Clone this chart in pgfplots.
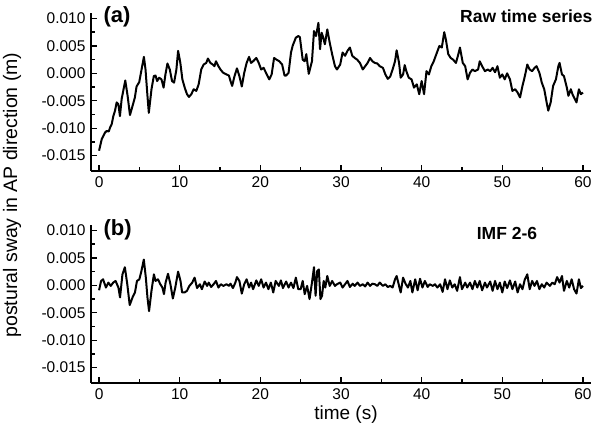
\documentclass[border=0pt]{standalone}
\usepackage{pgfplots}
\pgfplotsset{compat=1.18}
\usepackage{fontspec}
\setmainfont{Liberation Sans}

\pgfplotsset{
 sway/.style={
  scale only axis,width=500pt,height=158pt,
  xmin=-1,xmax=61,ymin=-0.0178,ymax=0.011,
  axis x line=bottom,axis y line=left,
  axis line style={-,line width=1.8pt},
  tick align=inside,
  major tick length=6pt,minor tick length=3.5pt,
  every tick/.style={line width=1.4pt,black},
  xtick={0,10,20,30,40,50,60},minor x tick num=1,
  ytick={-0.015,-0.01,-0.005,0,0.005,0.01},minor y tick num=1,
  scaled y ticks=false,
  yticklabel style={/pgf/number format/fixed,/pgf/number format/fixed zerofill,/pgf/number format/precision=3,xshift=-2pt},
  /pgf/number format/assume math mode=true,
  tick label style={font=\fontsize{15.5}{18}\selectfont},
  xticklabel style={yshift=-2pt},
 },
 trace/.style={black,line width=2pt,no markers,line join=round}
}

\begin{document}
\begin{tikzpicture}
\path[use as bounding box] (0,0) rectangle (601pt,435pt);

% (a) raw series
\begin{axis}[sway,at={(91pt,264pt)},anchor=south west]
\addplot[trace] coordinates {
(0,-0.0141)(0.33,-0.012)(0.74,-0.0108)(0.95,-0.0105)(1.2,-0.0106)(1.36,-0.0099)(1.56,-0.0093)
(1.77,-0.0078)(1.98,-0.0068)(2.18,-0.0053)(2.39,-0.0056)(2.59,-0.0078)(2.8,-0.0047)(3.25,-0.0013)
(3.54,-0.0041)(3.83,-0.0076)(4.16,-0.0059)(4.44,-0.0044)(4.65,-0.0024)(4.98,-0.0016)(5.27,0.0007)
(5.56,0.003)(5.76,0.0007)(6.0,-0.0041)(6.17,-0.0072)(6.5,-0.0029)(6.79,-0.0005)(7.0,-0.0004)
(7.2,-0.0014)(7.45,-0.0008)(7.74,-0.0011)(8.0,-0.0026)(8.23,-0.0002)(8.48,0.0018)(8.77,0.0007)
(9.05,-0.0014)(9.3,-0.0017)(9.59,0.0007)(9.8,0.0041)(10.08,0.0019)(10.33,-0.0011)(10.62,-0.0026)
(10.9,-0.0038)(11.15,-0.0043)(11.44,-0.0038)(11.73,-0.0029)(12.06,-0.0032)(12.35,-0.002)(12.67,0.0007)
(12.96,0.0016)(13.29,0.0019)(13.5,0.0027)(13.8,0.0019)(14.1,0.0016)(14.3,0.0013)(14.5,0.0022)
(14.8,0.0013)(15.1,0.0006)(15.4,0.0001)(15.8,-0.0002)(16.1,-0.0004)(16.3,-0.0014)(16.5,-0.0023)
(16.8,-0.0005)(17.1,0.0009)(17.4,-0.0005)(17.7,-0.0024)(18.0,0.0001)(18.3,0.0019)(18.6,0.003)
(18.85,0.0019)(19.1,0.0022)(19.5,0.0028)(19.8,0.0019)(20.1,0.0007)(20.4,0.001)(20.7,0.0001)
(21.1,-0.0011)(21.4,-0.0002)(21.7,0.0028)(22.0,0.0025)(22.35,0.0022)(22.7,0.0016)(23.0,-0.0004)
(23.2,-0.0004)(23.5,0.0001)(23.8,0.0038)(24.0,0.005)(24.4,0.0065)(24.7,0.0068)(24.9,0.0066)
(25.25,0.0025)(25.5,0.0022)(25.7,0.0035)(26.0,-0.0001)(26.4,0.0022)(26.65,0.0077)(26.9,0.0068)
(27.2,0.0092)(27.4,0.0044)(27.6,0.0074)(27.8,0.0065)(28.0,0.0053)(28.3,0.008)(28.6,0.0056)
(28.9,0.0035)(29.25,0.0013)(29.5,0.0007)(29.9,0.0016)(30.2,0.0038)(30.5,0.0032)(30.8,0.0041)
(31.1,0.0047)(31.4,0.0032)(31.7,0.0028)(32.0,0.0025)(32.35,0.0019)(32.7,0.0007)(33.0,0.0013)
(33.3,0.0019)(33.6,0.0028)(33.9,0.0022)(34.2,0.0019)(34.5,0.0018)(34.8,0.0013)(35.2,0.001)
(35.5,-0.0002)(35.8,-0.001)(36.1,-0.0006)(36.4,0.0007)(36.7,0.0022)(36.9,0.0042)(37.2,0.0019)
(37.4,-0.0008)(37.7,-0.0002)(37.9,0.0015)(38.1,0.0004)(38.4,-0.0008)(38.75,-0.0011)(39.05,-0.0026)
(39.4,-0.002)(39.7,-0.0038)(40.0,-0.0014)(40.3,-0.0038)(40.6,0.0004)(40.9,-0.0002)(41.2,0.0013)
(41.5,0.0022)(41.9,0.0038)(42.2,0.005)(42.5,0.0047)(42.8,0.0075)(43.0,0.0062)(43.3,0.0035)
(43.6,0.0028)(43.9,0.0025)(44.25,0.0019)(44.5,0.0032)(44.75,0.0047)(45.1,0.0019)(45.4,0.0013)
(45.7,-0.0011)(46.0,0.0001)(46.3,0.0007)(46.6,0.0004)(47.0,0.0007)(47.2,0.0022)(47.5,0.0013)
(47.85,0.0004)(48.2,0.0007)(48.5,0.0004)(48.8,0.001)(49.1,0.0002)(49.4,0.0013)(49.7,-0.0008)
(50.0,-0.0002)(50.3,-0.0011)(50.6,0.0)(50.95,-0.0011)(51.25,-0.0032)(51.6,-0.0029)(51.9,-0.0035)
(52.2,-0.0044)(52.5,-0.0023)(52.8,-0.0005)(53.1,0.0016)(53.4,0.0007)(53.7,0.0004)(54.0,0.001)
(54.25,0.0013)(54.6,0.0001)(54.9,-0.0017)(55.2,-0.0029)(55.5,-0.0053)(55.7,-0.0068)(56.0,-0.0053)
(56.3,-0.0023)(56.65,-0.0011)(56.95,0.0013)(57.1,0.0019)(57.4,-0.0002)(57.65,-0.0005)(58.0,-0.0026)
(58.2,-0.0041)(58.5,-0.0029)(58.7,-0.0038)(59.0,-0.0047)(59.2,-0.0053)(59.5,-0.0029)(59.75,-0.0038)
(60.0,-0.0035)
};
\end{axis}

% (b) IMF 2-6
\begin{axis}[sway,at={(91pt,52pt)},anchor=south west]
\addplot[trace] coordinates {
(0,-0.0009)(0.25,0.0008)(0.5,0.0011)(0.85,-0.0004)(1.15,0.0005)(1.45,-0.0001)(1.75,0.0005)
(2.05,0.0008)(2.4,-0.0004)(2.6,-0.0022)(2.9,0.002)(3.2,0.0033)(3.5,0.0002)(3.8,-0.0036)
(4.15,-0.0022)(4.45,-0.0013)(4.7,0.0008)(5.0,0.0011)(5.25,0.0026)(5.55,0.0047)(5.8,0.0014)
(6.0,-0.0022)(6.2,-0.0047)(6.5,-0.001)(6.8,0.002)(7.0,0.0008)(7.3,0.0011)(7.6,0.0002)
(7.85,-0.0004)(8.05,-0.0016)(8.25,0.0005)(8.55,0.0021)(8.85,0.0002)(9.15,-0.0024)(9.45,-0.0004)
(9.8,0.0025)(10.1,0.0008)(10.3,-0.0013)(10.6,-0.0013)(10.9,-0.001)(11.2,-0.0001)(11.55,0.0005)
(11.85,0.0014)(12.15,-0.0005)(12.5,0.0002)(12.75,-0.0007)(13.1,0.0007)(13.4,-0.0001)(13.6,0.0005)
(13.9,-0.0003)(14.2,0.0002)(14.5,0.0008)(14.8,-0.0004)(15.1,0.0002)(15.4,-0.0001)(15.8,0.0002)
(16.1,-0.0001)(16.3,0.0003)(16.6,-0.0005)(16.9,0.0005)(17.1,0.0015)(17.4,0.0008)(17.7,-0.0015)
(18.0,0.0002)(18.3,0.0011)(18.6,-0.0004)(18.85,0.0005)(19.1,-0.0007)(19.5,0.0009)(19.8,-0.0001)
(20.1,0.0011)(20.4,-0.0004)(20.7,0.0005)(21.0,-0.0007)(21.3,0.0005)(21.6,-0.0013)(21.9,0.0008)
(22.3,-0.0001)(22.55,0.0009)(22.8,-0.0005)(23.2,0.0007)(23.5,-0.0004)(23.8,0.0005)(24.1,-0.0005)
(24.4,0.0014)(24.7,-0.0007)(25.0,-0.0007)(25.25,0.0008)(25.5,-0.0016)(25.8,-0.0001)(26.1,-0.0025)
(26.4,0.0005)(26.65,0.0033)(26.85,-0.0019)(27.05,0.0026)(27.25,0.0029)(27.45,-0.0025)(27.65,-0.0019)
(27.85,0.0008)(28.05,-0.0004)(28.3,0.0017)(28.6,-0.0001)(28.9,0.0008)(29.25,-0.0001)(29.5,0.0002)
(29.9,0.0005)(30.2,-0.0004)(30.5,0.0002)(30.8,0.0008)(31.1,-0.0003)(31.45,0.0003)(31.7,-0.0001)
(32.05,0.0005)(32.35,-0.0001)(32.7,0.0002)(33.0,-0.0002)(33.3,0.0005)(33.6,-0.0001)(33.9,0.0003)
(34.2,0.0002)(34.5,-0.0001)(34.8,0.0005)(35.2,-0.0001)(35.5,0.0002)(35.8,-0.0003)(36.1,-0.0001)
(36.4,-0.0004)(36.7,0.0011)(36.9,0.0017)(37.2,-0.0001)(37.4,-0.0013)(37.7,0.0014)(38.0,0.0003)
(38.3,-0.0004)(38.6,0.0008)(38.85,-0.0013)(39.2,0.0011)(39.5,-0.0009)(39.8,0.0012)(40.1,-0.0004)
(40.4,0.0008)(40.75,-0.0003)(41.0,0.0002)(41.4,-0.0001)(41.65,0.0002)(41.95,-0.0004)(42.3,0.0002)
(42.6,-0.0012)(42.9,0.0011)(43.2,-0.0007)(43.5,0.0009)(43.8,-0.0004)(44.1,0.0002)(44.4,-0.001)
(44.75,0.0015)(45.0,-0.0007)(45.4,0.0005)(45.65,-0.0004)(46.0,0.0005)(46.3,-0.0007)(46.6,0.0008)
(46.9,-0.0004)(47.2,0.0008)(47.5,-0.0009)(47.85,0.0005)(48.1,-0.0004)(48.5,0.0007)(48.8,-0.001)
(49.1,0.0008)(49.4,-0.0007)(49.7,0.0005)(50.0,-0.0013)(50.3,0.0007)(50.6,-0.0005)(50.95,0.0009)
(51.25,-0.0007)(51.6,0.0007)(51.9,-0.0013)(52.2,0.0002)(52.5,-0.0007)(52.8,0.0011)(53.1,0.002)
(53.4,-0.0007)(53.7,0.0008)(54.0,-0.0001)(54.3,0.0008)(54.6,-0.0007)(54.9,0.0002)(55.2,-0.0004)
(55.5,0.0005)(55.9,-0.0001)(56.2,0.0005)(56.5,0.0002)(56.8,0.0015)(57.1,0.0005)(57.4,0.0017)
(57.65,-0.001)(58.0,0.0008)(58.3,-0.0004)(58.6,0.0011)(58.9,-0.0007)(59.2,-0.0015)(59.5,0.0011)
(59.75,-0.0005)(60.0,-0.0001)
};
\end{axis}

% panel texts and axis titles
\node[anchor=west,font=\fontsize{22}{26}\selectfont\bfseries] at (100pt,418pt) {(a)};
\node[anchor=west,font=\fontsize{22}{26}\selectfont\bfseries] at (100pt,205pt) {(b)};
\node[anchor=east,font=\fontsize{17.5}{21}\selectfont\bfseries] at (596pt,419pt) {Raw time series};
\node[font=\fontsize{17.5}{21}\selectfont\bfseries] at (507pt,202pt) {IMF 2-6};
\node[font=\fontsize{19}{23}\selectfont] at (346pt,20pt) {time (s)};
\node[rotate=90,font=\fontsize{19.5}{23}\selectfont] at (12pt,240pt) {postural sway in AP direction (m)};
\end{tikzpicture}
\end{document}
